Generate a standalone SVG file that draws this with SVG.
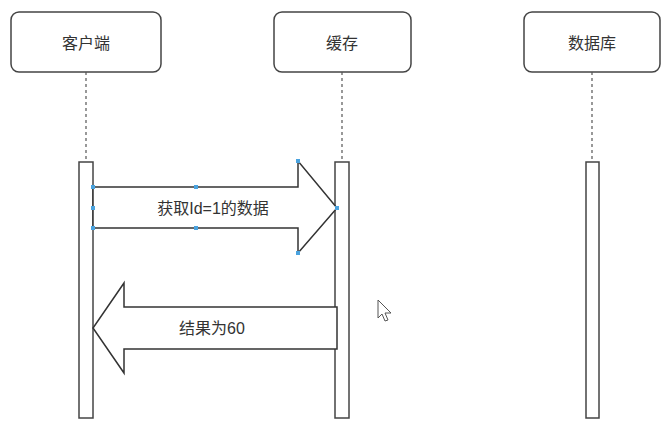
<svg xmlns="http://www.w3.org/2000/svg" width="669" height="423" viewBox="0 0 669 423">
<style>
.box{fill:#fff;stroke:#444;stroke-width:1.5}
.lbl{font-family:"Liberation Sans","Noto Sans CJK SC",sans-serif;font-size:16px;fill:#333;text-anchor:middle;dominant-baseline:central}
.life{stroke:#555;stroke-width:1.2;stroke-dasharray:3,3;fill:none}
.bar{fill:#fff;stroke:#444;stroke-width:1.5}
.arrow{fill:#fff;stroke:#333;stroke-width:1.5;stroke-linejoin:miter}
.h{fill:#4aa3df}
</style>
<rect width="669" height="423" fill="#fff"/>
<g id="client">
<rect class="box" x="11" y="12" width="150" height="60" rx="8"/>
<text class="lbl" x="86" y="43">客户端</text>
<line class="life" x1="86" y1="72" x2="86" y2="162"/>
<rect class="bar" x="79" y="162" width="14" height="256"/>
</g>
<g id="cache">
<rect class="box" x="274" y="12" width="137" height="60" rx="8"/>
<text class="lbl" x="342" y="43">缓存</text>
<line class="life" x1="342" y1="72" x2="342" y2="162"/>
<rect class="bar" x="335" y="162" width="14" height="256"/>
</g>
<g id="db">
<rect class="box" x="524" y="12" width="136" height="60" rx="8"/>
<text class="lbl" x="592" y="43">数据库</text>
<line class="life" x1="592" y1="72" x2="592" y2="162"/>
<rect class="bar" x="586" y="162" width="13" height="256"/>
</g>
<g id="connectors">
<polygon class="arrow" points="93,187 298,187 298,161 337,208 298,253 298,228 93,228"/>
<text class="lbl" x="213" y="208">获取Id=1的数据</text>
<g class="h">
<rect x="91" y="185" width="4" height="4"/><rect x="91" y="206" width="4" height="4"/><rect x="91" y="226" width="4" height="4"/>
<rect x="194" y="185" width="4" height="4"/><rect x="194" y="226" width="4" height="4"/>
<rect x="296" y="159" width="4" height="4"/><rect x="335" y="206" width="4" height="4"/><rect x="296" y="251" width="4" height="4"/>
</g>
<polygon class="arrow" points="337,307 124,307 124,283 93,328 124,373 124,349 337,349"/>
<text class="lbl" x="212" y="328">结果为60</text>
</g>
<path d="M378,300 L378,318 L382,314 L385,321 L388,320 L385,313 L391,313 Z" fill="#fff" stroke="#555" stroke-width="1"/>
</svg>
